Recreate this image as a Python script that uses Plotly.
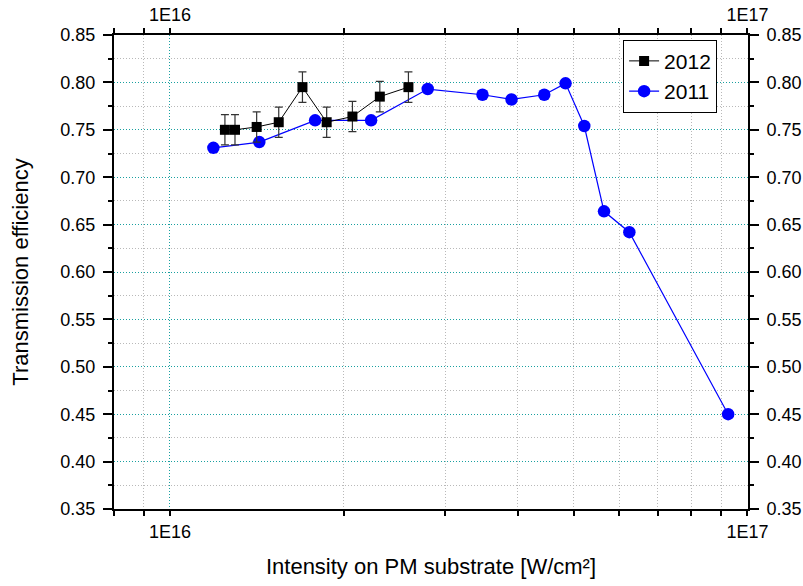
import plotly.graph_objects as go
import math

# ---- data ----
x_2012 = [1.245e16, 1.296e16, 1.413e16, 1.543e16, 1.696e16, 1.868e16, 2.07e16, 2.309e16, 2.588e16]
y_2012 = [0.750, 0.750, 0.753, 0.758, 0.795, 0.758, 0.764, 0.785, 0.795]
err_2012 = [0.016, 0.016, 0.016, 0.016, 0.016, 0.016, 0.016, 0.016, 0.016]

x_2011 = [1.189e16, 1.428e16, 1.784e16, 2.230e16, 2.795e16, 3.477e16, 3.904e16,
          4.448e16, 4.842e16, 5.218e16, 5.645e16, 6.245e16, 9.26e16]
y_2011 = [0.731, 0.737, 0.760, 0.760, 0.793, 0.787, 0.782, 0.787, 0.799,
          0.754, 0.664, 0.642, 0.450]

x_major_ticks = [1e16, 1e17]
x_major_labels = ["1E16", "1E17"]
x_minor_ticks = [8e15, 9e15, 2e16, 3e16, 4e16, 5e16, 6e16, 7e16, 8e16, 9e16]

x_range = [math.log10(8e15), 17.001]
y_range = [0.35, 0.85]

FONT = "Arial, Liberation Sans, sans-serif"
TEAL = "rgba(0,150,150,0.9)"
GRAY = "rgba(185,185,185,1)"
DOT = "1px,2px"

fig = go.Figure()

# invisible helper traces so the overlaid axes get drawn
for xa, ya in [("x2", "y"), ("x3", "y"), ("x4", "y"), ("x", "y2")]:
    fig.add_trace(go.Scatter(x=x_2011, y=y_2011, xaxis=xa, yaxis=ya, mode="markers",
                             marker=dict(opacity=0), showlegend=False, hoverinfo="skip"))

fig.add_trace(go.Scatter(
    x=x_2011, y=y_2011, name="2011", mode="lines+markers",
    line=dict(color="#0000FF", width=1.2),
    marker=dict(symbol="circle", size=12.5, color="#0000FF"),
    legendrank=2,
))
fig.add_trace(go.Scatter(
    x=x_2012, y=y_2012, name="2012", mode="lines+markers",
    line=dict(color="#000000", width=1),
    marker=dict(symbol="square", size=10, color="#000000"),
    error_y=dict(type="data", array=err_2012, color="#333333", thickness=1.2, width=4),
    legendrank=1,
))

axis_common = dict(showline=True, linecolor="black", linewidth=2,
                   tickcolor="black", tickwidth=1.5, zeroline=False, automargin=False,
                   tickfont=dict(family=FONT, size=18, color="black"))

fig.update_layout(
    width=803, height=586,
    margin=dict(l=114, r=55, t=35, b=77),
    paper_bgcolor="white", plot_bgcolor="white",
    font=dict(family=FONT, color="black"),
    showlegend=True,
    legend=dict(x=0.803, y=0.99, xanchor="left", yanchor="top",
                bgcolor="white", bordercolor="black", borderwidth=1,
                font=dict(family=FONT, size=21, color="black"),
                tracegroupgap=0),
    xaxis=dict(type="log", range=x_range, side="bottom", anchor="y",
               tickmode="array", tickvals=x_major_ticks, ticktext=x_major_labels,
               ticks="outside", ticklen=5,
               showgrid=True, gridcolor=TEAL, griddash=DOT, gridwidth=1,
               title=dict(text="Intensity on PM substrate [W/cm²]",
                          font=dict(family=FONT, size=22, color="black"), standoff=18),
               **axis_common),
    xaxis2=dict(type="log", range=x_range, side="top", overlaying="x", anchor="y",
                tickmode="array", tickvals=x_major_ticks, ticktext=x_major_labels,
                ticks="outside", ticklen=5, showgrid=False, **axis_common),
    xaxis3=dict(type="log", range=x_range, side="bottom", overlaying="x", anchor="y",
                tickmode="array", tickvals=x_minor_ticks, showticklabels=False,
                ticks="outside", ticklen=5,
                showgrid=True, gridcolor=GRAY, griddash=DOT, gridwidth=1,
                **axis_common),
    xaxis4=dict(type="log", range=x_range, side="top", overlaying="x", anchor="y",
                tickmode="array", tickvals=x_minor_ticks, showticklabels=False,
                ticks="outside", ticklen=5, showgrid=False, **axis_common),
    yaxis=dict(range=y_range, side="left", anchor="x",
               tickmode="linear", tick0=0.35, dtick=0.05, tickformat=".2f",
               ticks="outside", ticklen=9, ticklabelstandoff=4,
               showgrid=True, gridcolor=TEAL, griddash=DOT, gridwidth=1,
               minor=dict(dtick=0.025, tick0=0.35, ticks="outside", ticklen=4,
                          tickcolor="black", tickwidth=1.5,
                          showgrid=True, gridcolor=GRAY, griddash=DOT, gridwidth=1),
               title=dict(text="Transmission efficiency",
                          font=dict(family=FONT, size=22, color="black"), standoff=26),
               **axis_common),
    yaxis2=dict(range=y_range, side="right", overlaying="y", anchor="x",
                tickmode="linear", tick0=0.35, dtick=0.05, tickformat=".2f",
                ticks="outside", ticklen=9, ticklabelstandoff=4, showgrid=False,
                minor=dict(dtick=0.025, tick0=0.35, ticks="outside", ticklen=4,
                           tickcolor="black", tickwidth=1.5, showgrid=False),
                **axis_common),
)

fig.write_html("out.html")
